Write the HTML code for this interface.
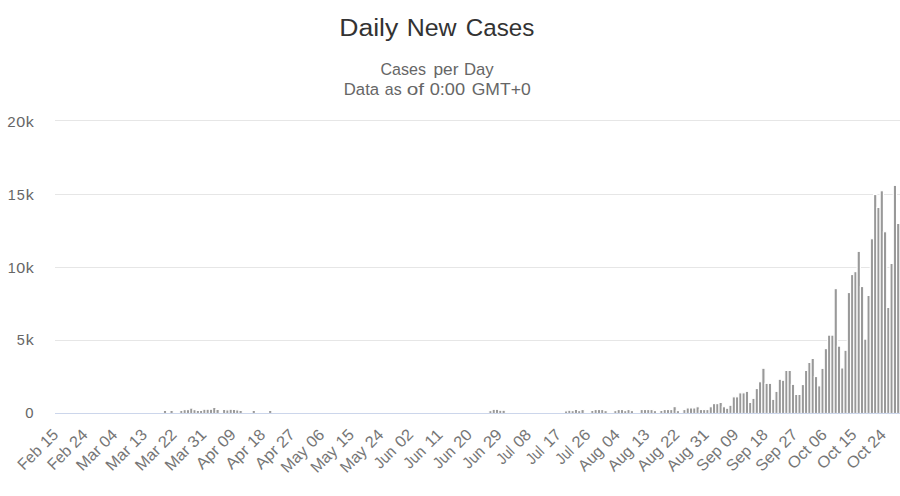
<!DOCTYPE html>
<html><head><meta charset="utf-8"><style>
html,body{margin:0;padding:0;background:#ffffff;width:900px;height:496px;overflow:hidden}
svg{position:absolute;left:0;top:0;display:block}
text{font-family:"Liberation Sans",sans-serif}
.xl text{font-size:16px;fill:#767676}
</style></head><body>
<svg width="900" height="496" viewBox="0 0 900 496">
<g fill="#e6e6e6">
<rect x="55" y="120" width="845" height="1"/>
<rect x="55" y="194" width="845" height="1"/>
<rect x="55" y="267" width="845" height="1"/>
<rect x="55" y="340" width="845" height="1"/>
</g>
<g fill="#999999" stroke="#ffffff" stroke-width="1.15">
<rect x="163.35" y="410.43" width="3.288" height="3.07"/>
<rect x="169.93" y="410.43" width="3.288" height="3.07"/>
<rect x="179.79" y="410.43" width="3.288" height="3.07"/>
<rect x="183.08" y="409.62" width="3.288" height="3.88"/>
<rect x="186.37" y="409.62" width="3.288" height="3.88"/>
<rect x="189.66" y="408.12" width="3.288" height="5.38"/>
<rect x="192.95" y="409.62" width="3.288" height="3.88"/>
<rect x="196.23" y="410.43" width="3.288" height="3.07"/>
<rect x="199.52" y="410.43" width="3.288" height="3.07"/>
<rect x="202.81" y="409.23" width="3.288" height="4.27"/>
<rect x="206.10" y="409.23" width="3.288" height="4.27"/>
<rect x="209.39" y="409.23" width="3.288" height="4.27"/>
<rect x="212.67" y="407.43" width="3.288" height="6.07"/>
<rect x="215.96" y="409.43" width="3.288" height="4.07"/>
<rect x="222.54" y="409.43" width="3.288" height="4.07"/>
<rect x="225.83" y="409.93" width="3.288" height="3.57"/>
<rect x="229.11" y="409.23" width="3.288" height="4.27"/>
<rect x="232.40" y="409.43" width="3.288" height="4.07"/>
<rect x="235.69" y="409.93" width="3.288" height="3.57"/>
<rect x="238.98" y="410.43" width="3.288" height="3.07"/>
<rect x="252.13" y="410.43" width="3.288" height="3.07"/>
<rect x="268.57" y="410.43" width="3.288" height="3.07"/>
<rect x="488.87" y="410.62" width="3.288" height="2.88"/>
<rect x="492.15" y="409.32" width="3.288" height="4.18"/>
<rect x="495.44" y="409.32" width="3.288" height="4.18"/>
<rect x="498.73" y="410.23" width="3.288" height="3.27"/>
<rect x="502.02" y="410.23" width="3.288" height="3.27"/>
<rect x="564.49" y="410.93" width="3.288" height="2.57"/>
<rect x="567.78" y="410.23" width="3.288" height="3.27"/>
<rect x="571.07" y="410.62" width="3.288" height="2.88"/>
<rect x="574.35" y="409.43" width="3.288" height="4.07"/>
<rect x="577.64" y="410.62" width="3.288" height="2.88"/>
<rect x="580.93" y="409.53" width="3.288" height="3.97"/>
<rect x="590.79" y="410.43" width="3.288" height="3.07"/>
<rect x="594.08" y="409.53" width="3.288" height="3.97"/>
<rect x="597.37" y="409.53" width="3.288" height="3.97"/>
<rect x="600.66" y="409.53" width="3.288" height="3.97"/>
<rect x="603.95" y="410.62" width="3.288" height="2.88"/>
<rect x="613.81" y="410.62" width="3.288" height="2.88"/>
<rect x="617.10" y="409.53" width="3.288" height="3.97"/>
<rect x="620.39" y="409.53" width="3.288" height="3.97"/>
<rect x="623.67" y="410.62" width="3.288" height="2.88"/>
<rect x="626.96" y="409.53" width="3.288" height="3.97"/>
<rect x="630.25" y="410.62" width="3.288" height="2.88"/>
<rect x="640.11" y="409.53" width="3.288" height="3.97"/>
<rect x="643.40" y="409.53" width="3.288" height="3.97"/>
<rect x="646.69" y="409.53" width="3.288" height="3.97"/>
<rect x="649.98" y="409.53" width="3.288" height="3.97"/>
<rect x="653.27" y="410.62" width="3.288" height="2.88"/>
<rect x="659.84" y="410.43" width="3.288" height="3.07"/>
<rect x="663.13" y="409.53" width="3.288" height="3.97"/>
<rect x="666.42" y="409.53" width="3.288" height="3.97"/>
<rect x="669.71" y="409.53" width="3.288" height="3.97"/>
<rect x="672.99" y="406.62" width="3.288" height="6.88"/>
<rect x="676.28" y="410.62" width="3.288" height="2.88"/>
<rect x="682.86" y="409.53" width="3.288" height="3.97"/>
<rect x="686.15" y="407.93" width="3.288" height="5.57"/>
<rect x="689.43" y="407.93" width="3.288" height="5.57"/>
<rect x="692.72" y="407.93" width="3.288" height="5.57"/>
<rect x="696.01" y="406.73" width="3.288" height="6.77"/>
<rect x="699.30" y="409.53" width="3.288" height="3.97"/>
<rect x="702.59" y="409.53" width="3.288" height="3.97"/>
<rect x="705.87" y="409.53" width="3.288" height="3.97"/>
<rect x="709.16" y="406.73" width="3.288" height="6.77"/>
<rect x="712.45" y="403.62" width="3.288" height="9.88"/>
<rect x="715.74" y="403.62" width="3.288" height="9.88"/>
<rect x="719.03" y="402.43" width="3.288" height="11.07"/>
<rect x="722.31" y="406.73" width="3.288" height="6.77"/>
<rect x="725.60" y="408.23" width="3.288" height="5.27"/>
<rect x="728.89" y="405.23" width="3.288" height="8.27"/>
<rect x="732.18" y="396.82" width="3.288" height="16.68"/>
<rect x="735.47" y="396.82" width="3.288" height="16.68"/>
<rect x="738.75" y="392.82" width="3.288" height="20.68"/>
<rect x="742.04" y="392.82" width="3.288" height="20.68"/>
<rect x="745.33" y="391.32" width="3.288" height="22.18"/>
<rect x="748.62" y="402.43" width="3.288" height="11.07"/>
<rect x="751.91" y="398.32" width="3.288" height="15.18"/>
<rect x="755.19" y="388.53" width="3.288" height="24.97"/>
<rect x="758.48" y="381.73" width="3.288" height="31.77"/>
<rect x="761.77" y="368.23" width="3.288" height="45.27"/>
<rect x="765.06" y="383.32" width="3.288" height="30.18"/>
<rect x="768.35" y="383.32" width="3.288" height="30.18"/>
<rect x="771.63" y="399.32" width="3.288" height="14.18"/>
<rect x="774.92" y="391.32" width="3.288" height="22.18"/>
<rect x="778.21" y="379.23" width="3.288" height="34.27"/>
<rect x="781.50" y="380.23" width="3.288" height="33.27"/>
<rect x="784.79" y="370.43" width="3.288" height="43.07"/>
<rect x="788.07" y="370.43" width="3.288" height="43.07"/>
<rect x="791.36" y="384.32" width="3.288" height="29.18"/>
<rect x="794.65" y="394.43" width="3.288" height="19.07"/>
<rect x="797.94" y="394.43" width="3.288" height="19.07"/>
<rect x="801.23" y="384.53" width="3.288" height="28.97"/>
<rect x="804.51" y="370.43" width="3.288" height="43.07"/>
<rect x="807.80" y="362.43" width="3.288" height="51.07"/>
<rect x="811.09" y="358.43" width="3.288" height="55.07"/>
<rect x="814.38" y="376.53" width="3.288" height="36.97"/>
<rect x="817.67" y="385.82" width="3.288" height="27.68"/>
<rect x="820.95" y="368.32" width="3.288" height="45.18"/>
<rect x="824.24" y="348.62" width="3.288" height="64.88"/>
<rect x="827.53" y="335.12" width="3.288" height="78.38"/>
<rect x="830.82" y="335.12" width="3.288" height="78.38"/>
<rect x="834.11" y="288.62" width="3.288" height="124.88"/>
<rect x="837.39" y="346.12" width="3.288" height="67.38"/>
<rect x="840.68" y="367.93" width="3.288" height="45.57"/>
<rect x="843.97" y="350.23" width="3.288" height="63.27"/>
<rect x="847.26" y="292.53" width="3.288" height="120.97"/>
<rect x="850.55" y="274.53" width="3.288" height="138.97"/>
<rect x="853.83" y="271.62" width="3.288" height="141.88"/>
<rect x="857.12" y="251.33" width="3.288" height="162.17"/>
<rect x="860.41" y="286.53" width="3.288" height="126.97"/>
<rect x="863.70" y="339.12" width="3.288" height="74.38"/>
<rect x="866.99" y="295.43" width="3.288" height="118.07"/>
<rect x="870.27" y="238.73" width="3.288" height="174.77"/>
<rect x="873.56" y="194.53" width="3.288" height="218.97"/>
<rect x="876.85" y="207.43" width="3.288" height="206.07"/>
<rect x="880.14" y="190.73" width="3.288" height="222.77"/>
<rect x="883.43" y="231.73" width="3.288" height="181.77"/>
<rect x="886.71" y="307.43" width="3.288" height="106.07"/>
<rect x="890.00" y="263.43" width="3.288" height="150.07"/>
<rect x="893.29" y="185.33" width="3.288" height="228.17"/>
<rect x="896.58" y="223.43" width="3.288" height="190.07"/>
</g>
<rect x="55" y="413" width="845" height="1" fill="#ccd6eb"/>
<text transform="translate(339.26,35.60) scale(1.0851,1)" text-anchor="start" font-size="24.50" fill="#333333">Daily</text>
<text transform="translate(406.73,35.60) scale(1.0180,1)" text-anchor="start" font-size="24.50" fill="#333333">New</text>
<text transform="translate(465.81,35.60) scale(0.9875,1)" text-anchor="start" font-size="24.50" fill="#333333">Cases</text>
<text transform="translate(380.54,75.00) scale(0.9446,1)" text-anchor="start" font-size="17.00" fill="#666666">Cases</text>
<text transform="translate(433.43,75.00) scale(1.0185,1)" text-anchor="start" font-size="17.00" fill="#666666">per</text>
<text transform="translate(463.94,75.00) scale(0.9811,1)" text-anchor="start" font-size="17.00" fill="#666666">Day</text>
<text transform="translate(343.78,94.60) scale(0.9830,1)" text-anchor="start" font-size="17.00" fill="#666666">Data</text>
<text transform="translate(384.85,94.60) scale(0.9373,1)" text-anchor="start" font-size="17.00" fill="#666666">as</text>
<text transform="translate(406.74,94.60) scale(1.2223,1)" text-anchor="start" font-size="17.00" fill="#666666">of</text>
<text transform="translate(429.63,94.60) scale(1.0726,1)" text-anchor="start" font-size="17.00" fill="#666666">0:00</text>
<text transform="translate(471.71,94.60) scale(1.0328,1)" text-anchor="start" font-size="17.00" fill="#666666">GMT+0</text>
<g class="yl" font-size="15.18" fill="#666666" transform="translate(34.0,126.85) scale(1.03,1)"><text transform="translate(-26.00,0) scale(0.9609,1)">2</text><text transform="translate(-17.18,0) scale(1.0299,1)">0</text><text transform="translate(-8.00,0) scale(1.0287,1)">k</text></g>
<g class="yl" font-size="15.18" fill="#666666" transform="translate(34.0,199.85) scale(1.03,1)"><text transform="translate(-25.47,0) scale(0.9168,1)">1</text><text transform="translate(-16.70,0) scale(0.9256,1)">5</text><text transform="translate(-8.00,0) scale(1.0287,1)">k</text></g>
<g class="yl" font-size="15.18" fill="#666666" transform="translate(34.0,273.00) scale(1.03,1)"><text transform="translate(-25.47,0) scale(0.9168,1)">1</text><text transform="translate(-17.18,0) scale(1.0299,1)">0</text><text transform="translate(-8.00,0) scale(1.0287,1)">k</text></g>
<g class="yl" font-size="15.18" fill="#666666" transform="translate(34.0,345.00) scale(1.03,1)"><text transform="translate(-16.70,0) scale(0.9256,1)">5</text><text transform="translate(-8.00,0) scale(1.0287,1)">k</text></g>
<g class="yl" font-size="15.18" fill="#666666" transform="translate(34.0,417.60) scale(1.03,1)"><text transform="translate(-8.58,0) scale(0.9498,1)">0</text></g>
<g class="xl" transform="translate(59.60,435.40) rotate(-45)"><text transform="translate(-50.18,0) scale(0.9693,1)">Feb</text><text transform="translate(-18.23,0) scale(1.0013,1)">15</text></g>
<g class="xl" transform="translate(89.17,435.40) rotate(-45)"><text transform="translate(-50.18,0) scale(0.9693,1)">Feb</text><text transform="translate(-19.00,0) scale(1.0330,1)">24</text></g>
<g class="xl" transform="translate(118.73,435.40) rotate(-45)"><text transform="translate(-51.32,0) scale(1.0332,1)">Mar</text><text transform="translate(-18.64,0) scale(1.0106,1)">04</text></g>
<g class="xl" transform="translate(148.30,435.40) rotate(-45)"><text transform="translate(-51.32,0) scale(1.0332,1)">Mar</text><text transform="translate(-18.23,0) scale(1.0056,1)">13</text></g>
<g class="xl" transform="translate(177.86,435.40) rotate(-45)"><text transform="translate(-51.32,0) scale(1.0332,1)">Mar</text><text transform="translate(-19.00,0) scale(1.0625,1)">22</text></g>
<g class="xl" transform="translate(207.43,435.40) rotate(-45)"><text transform="translate(-51.32,0) scale(1.0332,1)">Mar</text><text transform="translate(-19.00,0) scale(1.0625,1)">31</text></g>
<g class="xl" transform="translate(236.99,435.40) rotate(-45)"><text transform="translate(-49.16,0) scale(1.0582,1)">Apr</text><text transform="translate(-18.67,0) scale(1.0394,1)">09</text></g>
<g class="xl" transform="translate(266.56,435.40) rotate(-45)"><text transform="translate(-49.16,0) scale(1.0582,1)">Apr</text><text transform="translate(-18.23,0) scale(1.0056,1)">18</text></g>
<g class="xl" transform="translate(296.12,435.40) rotate(-45)"><text transform="translate(-49.16,0) scale(1.0582,1)">Apr</text><text transform="translate(-19.00,0) scale(1.0625,1)">27</text></g>
<g class="xl" transform="translate(325.69,435.40) rotate(-45)"><text transform="translate(-54.26,0) scale(1.0078,1)">May</text><text transform="translate(-18.64,0) scale(1.0198,1)">06</text></g>
<g class="xl" transform="translate(355.25,435.40) rotate(-45)"><text transform="translate(-54.26,0) scale(1.0078,1)">May</text><text transform="translate(-18.23,0) scale(1.0013,1)">15</text></g>
<g class="xl" transform="translate(384.82,435.40) rotate(-45)"><text transform="translate(-54.26,0) scale(1.0078,1)">May</text><text transform="translate(-19.00,0) scale(1.0330,1)">24</text></g>
<g class="xl" transform="translate(414.38,435.40) rotate(-45)"><text transform="translate(-48.39,0) scale(0.9365,1)">Jun</text><text transform="translate(-18.67,0) scale(1.0394,1)">02</text></g>
<g class="xl" transform="translate(443.95,435.40) rotate(-45)"><text transform="translate(-48.39,0) scale(0.9365,1)">Jun</text><text transform="translate(-18.22,0) scale(1.0824,1)">11</text></g>
<g class="xl" transform="translate(473.51,435.40) rotate(-45)"><text transform="translate(-48.39,0) scale(0.9365,1)">Jun</text><text transform="translate(-19.00,0) scale(1.0365,1)">20</text></g>
<g class="xl" transform="translate(503.08,435.40) rotate(-45)"><text transform="translate(-48.39,0) scale(0.9365,1)">Jun</text><text transform="translate(-19.00,0) scale(1.0625,1)">29</text></g>
<g class="xl" transform="translate(532.64,435.40) rotate(-45)"><text transform="translate(-42.37,0) scale(0.8933,1)">Jul</text><text transform="translate(-18.64,0) scale(1.0198,1)">08</text></g>
<g class="xl" transform="translate(562.21,435.40) rotate(-45)"><text transform="translate(-42.37,0) scale(0.8933,1)">Jul</text><text transform="translate(-18.14,0) scale(1.0088,1)">17</text></g>
<g class="xl" transform="translate(591.77,435.40) rotate(-45)"><text transform="translate(-42.37,0) scale(0.8933,1)">Jul</text><text transform="translate(-19.00,0) scale(1.0447,1)">26</text></g>
<g class="xl" transform="translate(621.34,435.40) rotate(-45)"><text transform="translate(-52.23,0) scale(0.9911,1)">Aug</text><text transform="translate(-18.64,0) scale(1.0106,1)">04</text></g>
<g class="xl" transform="translate(650.90,435.40) rotate(-45)"><text transform="translate(-52.23,0) scale(0.9911,1)">Aug</text><text transform="translate(-18.23,0) scale(1.0056,1)">13</text></g>
<g class="xl" transform="translate(680.47,435.40) rotate(-45)"><text transform="translate(-52.23,0) scale(0.9911,1)">Aug</text><text transform="translate(-19.00,0) scale(1.0625,1)">22</text></g>
<g class="xl" transform="translate(710.03,435.40) rotate(-45)"><text transform="translate(-52.23,0) scale(0.9911,1)">Aug</text><text transform="translate(-19.00,0) scale(1.0625,1)">31</text></g>
<g class="xl" transform="translate(739.60,435.40) rotate(-45)"><text transform="translate(-52.00,0) scale(1.0052,1)">Sep</text><text transform="translate(-18.67,0) scale(1.0394,1)">09</text></g>
<g class="xl" transform="translate(769.16,435.40) rotate(-45)"><text transform="translate(-52.00,0) scale(1.0052,1)">Sep</text><text transform="translate(-18.23,0) scale(1.0056,1)">18</text></g>
<g class="xl" transform="translate(798.73,435.40) rotate(-45)"><text transform="translate(-52.00,0) scale(1.0052,1)">Sep</text><text transform="translate(-19.00,0) scale(1.0625,1)">27</text></g>
<g class="xl" transform="translate(828.29,435.40) rotate(-45)"><text transform="translate(-49.00,0) scale(1.0489,1)">Oct</text><text transform="translate(-18.64,0) scale(1.0198,1)">06</text></g>
<g class="xl" transform="translate(857.86,435.40) rotate(-45)"><text transform="translate(-49.00,0) scale(1.0489,1)">Oct</text><text transform="translate(-18.23,0) scale(1.0013,1)">15</text></g>
<g class="xl" transform="translate(887.42,435.40) rotate(-45)"><text transform="translate(-49.00,0) scale(1.0489,1)">Oct</text><text transform="translate(-19.00,0) scale(1.0330,1)">24</text></g>
</svg>
</body></html>
